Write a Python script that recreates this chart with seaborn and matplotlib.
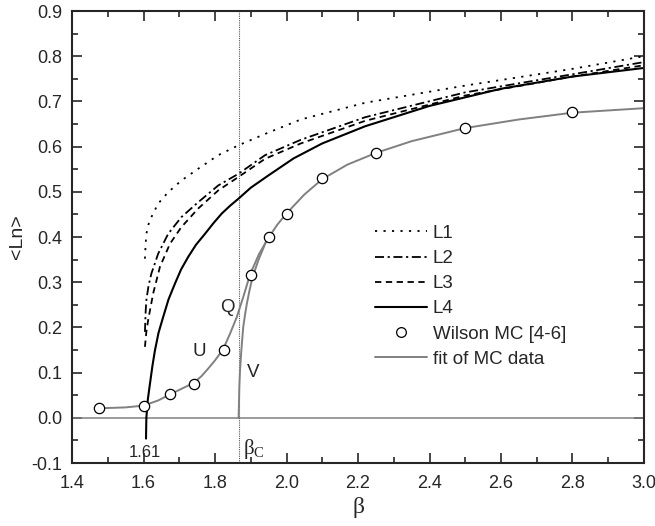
import matplotlib
matplotlib.use("Agg")
import matplotlib.pyplot as plt
import seaborn as sns
import numpy as np
import pandas as pd
from matplotlib.lines import Line2D

# ---- data ----
beta_c = 1.866

L1_x = [1.604, 1.606, 1.608, 1.614, 1.622, 1.641, 1.669, 1.706, 1.753, 1.809, 1.866, 1.94, 2.04, 2.22, 2.5, 2.8, 3.0]
L1_y = [0.352, 0.385, 0.407, 0.428, 0.444, 0.474, 0.499, 0.525, 0.551, 0.581, 0.603, 0.628, 0.660, 0.697, 0.735, 0.772, 0.800]

L2_x = [1.604, 1.606, 1.608, 1.614, 1.622, 1.641, 1.669, 1.706, 1.753, 1.809, 1.866, 1.94, 2.04, 2.22, 2.5, 2.8, 3.0]
L2_y = [0.190, 0.235, 0.260, 0.292, 0.319, 0.363, 0.407, 0.444, 0.477, 0.514, 0.540, 0.581, 0.615, 0.665, 0.720, 0.760, 0.787]

L3_x = [1.604, 1.608, 1.613, 1.627, 1.646, 1.674, 1.706, 1.753, 1.809, 1.866, 1.94, 2.04, 2.22, 2.5, 2.8, 3.0]
L3_y = [0.157, 0.190, 0.216, 0.275, 0.334, 0.385, 0.422, 0.463, 0.503, 0.533, 0.573, 0.607, 0.657, 0.713, 0.755, 0.780]

L4_x = [1.607, 1.608, 1.612, 1.618, 1.625, 1.632, 1.642, 1.655, 1.670, 1.688, 1.705, 1.725, 1.747, 1.772, 1.795, 1.819, 1.842, 1.866, 1.90, 1.949, 2.02, 2.10, 2.22, 2.4, 2.6, 2.8, 3.0]
L4_y = [-0.046, 0.0, 0.040, 0.075, 0.115, 0.149, 0.188, 0.223, 0.262, 0.297, 0.328, 0.356, 0.383, 0.407, 0.430, 0.452, 0.469, 0.485, 0.509, 0.536, 0.574, 0.607, 0.645, 0.690, 0.728, 0.755, 0.774]

mc_x = [1.475, 1.60, 1.675, 1.74, 1.825, 1.90, 1.95, 2.00, 2.10, 2.25, 2.50, 2.80]
mc_y = [0.021, 0.026, 0.052, 0.075, 0.151, 0.317, 0.400, 0.450, 0.530, 0.586, 0.641, 0.676]

fit_x = [1.475, 1.55, 1.60, 1.64, 1.675, 1.706, 1.74, 1.762, 1.781, 1.80, 1.823, 1.842, 1.861, 1.879, 1.898, 1.923, 1.95, 1.975, 2.0, 2.05, 2.1, 2.17, 2.25, 2.35, 2.5, 2.65, 2.8, 3.0]
fit_y = [0.021, 0.023, 0.027, 0.038, 0.052, 0.064, 0.077, 0.092, 0.109, 0.127, 0.152, 0.186, 0.223, 0.267, 0.317, 0.362, 0.399, 0.428, 0.452, 0.494, 0.528, 0.560, 0.586, 0.612, 0.641, 0.660, 0.675, 0.685]

V_x = [1.866, 1.867, 1.868, 1.870, 1.873, 1.876, 1.879, 1.884, 1.889, 1.896, 1.903, 1.912, 1.921, 1.934, 1.948]
V_y = [0.000, 0.030, 0.068, 0.105, 0.142, 0.172, 0.201, 0.228, 0.252, 0.280, 0.304, 0.327, 0.348, 0.373, 0.400]

xticks = [1.4, 1.6, 1.8, 2.0, 2.2, 2.4, 2.6, 2.8, 3.0]
yticks = [-0.1, 0.0, 0.1, 0.2, 0.3, 0.4, 0.5, 0.6, 0.7, 0.8, 0.9]

# ---- style ----
sns.set_style("ticks")
plt.rcParams["font.family"] = ["Liberation Sans", "DejaVu Sans"]
plt.rcParams["mathtext.fontset"] = "custom"
plt.rcParams["mathtext.rm"] = "Liberation Serif"
plt.rcParams["mathtext.it"] = "Liberation Serif:italic"

fig = plt.figure(figsize=(6.55, 5.26), dpi=100)
ax = fig.add_axes([72/655, 1-463/526, (644-72)/655, (463-11)/526])

grey = "#808080"
ax.axhline(0.0, color=grey, lw=1.1, zorder=1)
ax.axvline(beta_c, color="#555555", lw=0.8, linestyle=(0, (1, 1)), zorder=1)

def line(x, y, **kw):
    df = pd.DataFrame({"x": x, "y": y})
    sns.lineplot(data=df, x="x", y="y", ax=ax, sort=False, estimator=None, **kw)

lw = 1.3
ls1 = (0, (1.2, 3.5))
ls2 = (0, (5, 2, 1.2, 2))
ls3 = (0, (3.5, 2.5))
line(L1_x, L1_y, color="black", lw=lw, linestyle=ls1)
line(L2_x, L2_y, color="black", lw=lw, linestyle=ls2)
line(L3_x, L3_y, color="black", lw=lw, linestyle=ls3)
line(L4_x, L4_y, color="black", lw=1.5, linestyle="-")
line(fit_x, fit_y, color=grey, lw=1.4, linestyle="-")
line(V_x, V_y, color=grey, lw=1.4, linestyle="-")
sns.scatterplot(x=mc_x, y=mc_y, ax=ax, marker="o", s=55, facecolor="white",
                edgecolor="black", linewidth=0.9, zorder=5)

ax.set_xlim(1.4, 3.0)
ax.set_ylim(-0.1, 0.9)
ax.set_xticks(xticks)
ax.set_xticklabels([f"{v:.1f}" for v in xticks])
ax.set_yticks(yticks)
ax.set_yticklabels([f"{v:.1f}" for v in yticks])
ax.set_xticks(np.arange(1.5, 3.0, 0.2), minor=True)
ax.set_yticks(np.arange(-0.05, 0.9, 0.1), minor=True)
ax.tick_params(which="both", direction="in", top=True, right=True,
               labeltop=False, labelright=False, width=1.2, labelsize=13)
ax.tick_params(axis="x", which="both", pad=9)
ax.tick_params(axis="y", which="both", pad=7)
ax.tick_params(which="major", length=7)
ax.tick_params(which="minor", length=4)
for s in ax.spines.values():
    s.set_linewidth(1.5)

ax.set_xlabel("β", family="Liberation Serif", fontsize=17, labelpad=3)
ax.set_ylabel("<Ln>", fontsize=14, labelpad=4)

ax.text(1.605, -0.077, "1.61", fontsize=12, ha="center", va="center")
ax.text(1.877, -0.068, r"$\mathrm{\beta}_{\mathrm{C}}$", fontsize=15, ha="left", va="center")
ax.text(1.834, 0.243, "Q", fontsize=13.5, ha="center", va="center")
ax.text(1.755, 0.146, "U", fontsize=13.5, ha="center", va="center")
ax.text(1.908, 0.101, "V", fontsize=13.5, ha="center", va="center")

handles = [
    Line2D([], [], color="black", lw=lw, linestyle=ls1),
    Line2D([], [], color="black", lw=lw, linestyle=ls2),
    Line2D([], [], color="black", lw=lw, linestyle=ls3),
    Line2D([], [], color="black", lw=1.5),
    Line2D([], [], marker="o", linestyle="none", markerfacecolor="white",
           markeredgecolor="black", markersize=7, markeredgewidth=0.9),
    Line2D([], [], color=grey, lw=1.4),
]
labels = ["L1", "L2", "L3", "L4", "Wilson MC [4-6]", "fit of MC data"]
ax.legend(handles, labels, loc="upper left", bbox_to_anchor=(0.529, 0.527),
          frameon=False, fontsize=13.5, handlelength=2.8, handletextpad=0.3,
          labelspacing=0.43, borderpad=0, borderaxespad=0)

fig.savefig("out.png", dpi=100)
